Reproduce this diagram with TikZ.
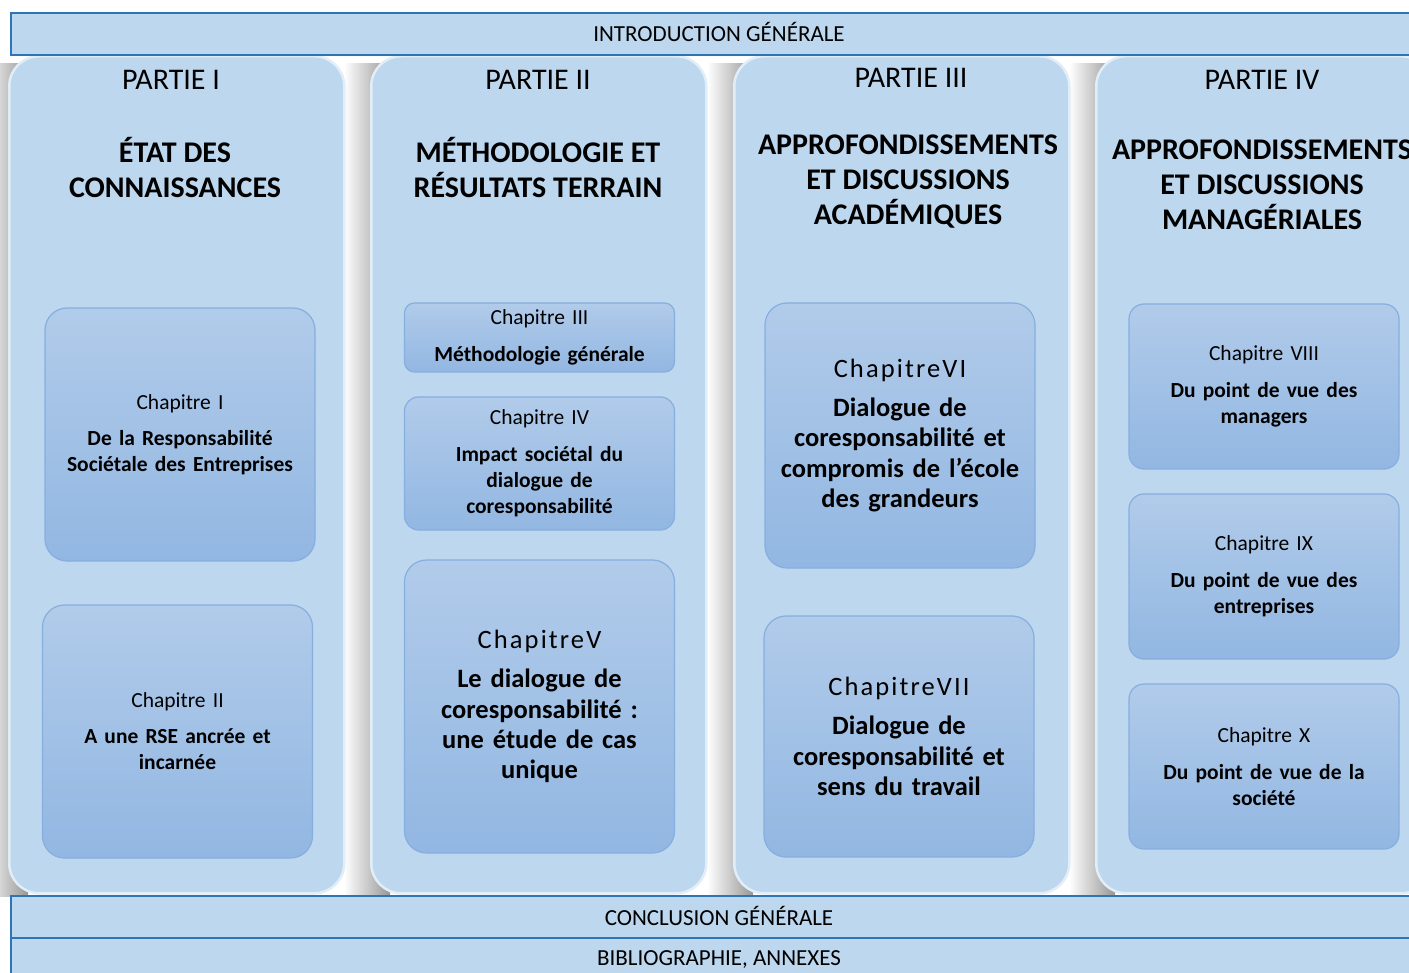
\documentclass[tikz,border=0pt]{standalone}
\usepackage{fontspec}
\setmainfont{Carlito}
\usetikzlibrary{positioning}
\definecolor{mfill}{HTML}{BDD7EE}
\definecolor{mline}{HTML}{2E75B6}
\definecolor{mtop}{HTML}{B1CBEA}
\definecolor{mbot}{HTML}{92B7E2}
\definecolor{medge}{HTML}{86AEDF}
\definecolor{mshadow}{HTML}{969696}
\tikzset{barbox/.style = {draw = mline, fill = mfill, line width = 2pt, minimum width = 1418pt, minimum height = 42pt, anchor = north west, inner sep = 0}}
\tikzset{bartext/.style = {font = \fontsize{23}{26}\selectfont}}
\tikzset{partbox/.style = {fill = mfill, draw = white!55!mfill, line width = 2.5pt, rounded corners = 30pt, minimum width = 335pt, minimum height = 837pt, anchor = north west, inner sep = 0}}
\tikzset{partlbl/.style = {font = \fontsize{30}{34}\selectfont}}
\tikzset{parttitle/.style = {align = center, font = \fontsize{30}{35}\selectfont\bfseries}}
\tikzset{chapbox/.style = {top color = mtop, bottom color = mbot, draw = medge, line width = 1.2pt, rounded corners = 22pt, text width = 262pt, align = center, inner sep = 0, minimum width = 270pt, font = \fontsize{21.5}{26}\selectfont}}
\tikzset{bigchap/.style = {chapbox, font = \fontsize{26.5}{30.3}\selectfont}}
\newcommand{\spacedlbl}[1]{{\addfontfeature{LetterSpace = 8}#1}}

\begin{document}
\begin{tikzpicture}[x = 1pt, y = -1pt]
      \useasboundingbox (0, 0) rectangle (1409, 973);
      \fill [white] (0, 0) rectangle (1409, 973);

      % shadows behind the parts
      \shade [left color = white, right color = mshadow] (-18, 64) rectangle (28, 896);
      \shade [left color = white, right color = mshadow] (344, 64) rectangle (390, 896);
      \shade [left color = white, right color = mshadow] (707, 64) rectangle (753, 896);
      \shade [left color = white, right color = mshadow] (1069, 64) rectangle (1115, 896);

      % parts
      \node [partbox] (part1) at (8, 55) {};
      \node [partbox] (part2) at (370, 55) {};
      \node [partbox] (part3) at (733, 55) {};
      \node [partbox] (part4) at (1095, 55) {};

      \node [partlbl] (p1lbl) at (171, 80) {PARTIE I};
      \node [partlbl] (p2lbl) at (538, 80) {PARTIE II};
      \node [partlbl] (p3lbl) at (911, 78) {PARTIE III};
      \node [partlbl] (p4lbl) at (1262, 80) {PARTIE IV};

      \node [parttitle] (p1title) at (175, 167.5) {ÉTAT DES\\ CONNAISSANCES};
      \node [parttitle] (p2title) at (538, 167.5) {MÉTHODOLOGIE ET\\ RÉSULTATS TERRAIN};
      \node [parttitle] (p3title) at (908, 182) {APPROFONDISSEMENTS\\ ET DISCUSSIONS\\ ACADÉMIQUES};
      \node [parttitle] (p4title) at (1262, 184.5) {APPROFONDISSEMENTS\\ ET DISCUSSIONS\\ MANAGÉRIALES};

      % chapters
      \node [chapbox, minimum height = 253pt] (ch1) at (180, 434.5)
        {Chapitre I\\[10pt]{\bfseries De la Responsabilité\\ Sociétale des Entreprises}};
      \node [chapbox, minimum height = 253pt] (ch2) at (177.5, 731.5)
        {Chapitre II\\[10pt]{\bfseries A une RSE ancrée et\\ incarnée}};
      \node [chapbox, minimum height = 69pt, rounded corners = 10pt] (ch3) at (539.5, 337.5)
        {Chapitre III\\[11pt]{\bfseries Méthodologie générale}};
      \node [chapbox, minimum height = 133pt, rounded corners = 14pt] (ch4) at (539.5, 463.5)
        {Chapitre IV\\[11pt]{\bfseries Impact sociétal du\\ dialogue de\\ coresponsabilité}};
      \node [bigchap, minimum height = 293pt] (ch5) at (539.5, 706.5)
        {\spacedlbl{ChapitreV}\\[9pt]{\bfseries Le dialogue de\\ coresponsabilité :\\ une étude de cas\\ unique}};
      \node [bigchap, minimum height = 265pt] (ch6) at (900, 435.5)
        {\spacedlbl{ChapitreVI}\\[9pt]{\bfseries Dialogue de\\ coresponsabilité et\\ compromis de l’école\\ des grandeurs}};
      \node [bigchap, minimum height = 241pt] (ch7) at (899, 736.5)
        {\spacedlbl{ChapitreVII}\\[9pt]{\bfseries Dialogue de\\ coresponsabilité et\\ sens du travail}};
      \node [chapbox, minimum height = 165pt, rounded corners = 15pt] (ch8) at (1264, 386.5)
        {Chapitre VIII\\[11pt]{\bfseries Du point de vue des\\ managers}};
      \node [chapbox, minimum height = 165pt, rounded corners = 15pt] (ch9) at (1264, 576.5)
        {Chapitre IX\\[11pt]{\bfseries Du point de vue des\\ entreprises}};
      \node [chapbox, minimum height = 165pt, rounded corners = 15pt] (ch10) at (1264, 766.5)
        {Chapitre X\\[11pt]{\bfseries Du point de vue de la\\ société}};

      % bars
      \node [barbox] (intro) at (10, 12) {};
      \node [barbox] (concl) at (10, 895) {};
      \node [barbox, minimum height = 50pt] (biblio) at (10, 937) {};
      \node [bartext] (introtxt) at (719, 32) {INTRODUCTION GÉNÉRALE};
      \node [bartext] (concltxt) at (719, 916) {CONCLUSION GÉNÉRALE};
      \node [bartext] (bibtxt) at (719, 960) {BIBLIOGRAPHIE, ANNEXES};
    \end{tikzpicture}
\end{document}
